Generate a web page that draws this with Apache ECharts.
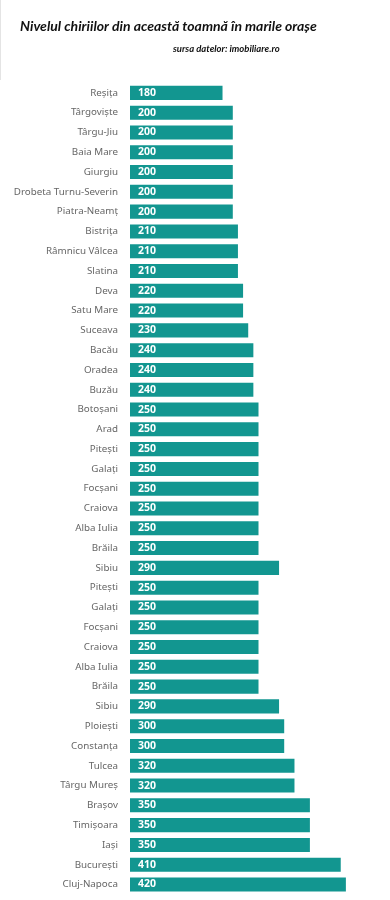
<!DOCTYPE html>
<html>
<head>
<meta charset="utf-8">
<script src="https://cdn.jsdelivr.net/npm/echarts@6/dist/echarts.min.js"></script>
<style>
html,body{margin:0;padding:0;background:#fff;}
#chart{width:390px;height:900px;}
</style>
</head>
<body>
<div id="chart"></div>
<script>
const titleText = 'Nivelul chiriilor din această toamnă în marile orașe';
const sourceText = 'sursa datelor: imobiliare.ro';
const cities = ['Reșița','Târgoviște','Târgu-Jiu','Baia Mare','Giurgiu','Drobeta Turnu-Severin','Piatra-Neamț','Bistrița','Râmnicu Vâlcea','Slatina','Deva','Satu Mare','Suceava','Bacău','Oradea','Buzău','Botoșani','Arad','Pitești','Galați','Focșani','Craiova','Alba Iulia','Brăila','Sibiu','Pitești','Galați','Focșani','Craiova','Alba Iulia','Brăila','Sibiu','Ploiești','Constanța','Tulcea','Târgu Mureș','Brașov','Timișoara','Iași','București','Cluj-Napoca'];
const rents = [180,200,200,200,200,200,200,210,210,210,220,220,230,240,240,240,250,250,250,250,250,250,250,250,290,250,250,250,250,250,250,290,300,300,320,320,350,350,350,410,420];

const chart = echarts.init(document.getElementById('chart'), null, {renderer:'canvas'});
chart.setOption({
  animation:false,
  backgroundColor:'#ffffff',
  title:[
    {text:titleText, left:15, top:14, textStyle:{fontFamily:'Lato', fontStyle:'italic', fontWeight:'bold', fontSize:14, color:'#111'}},
    {text:sourceText, left:168, top:39, textStyle:{fontFamily:'Lato', fontStyle:'italic', fontWeight:'bold', fontSize:9.5, color:'#111'}}
  ],
  graphic:[
    {type:'line', shape:{x1:0.5,y1:0,x2:0.5,y2:80}, style:{stroke:'#e4e4e4', lineWidth:1}}
  ],
  grid:{left:130, right:3, top:83, bottom:5.6, containLabel:false},
  xAxis:{type:'value', min:0, max:500, show:false},
  yAxis:{
    type:'category', data:cities, inverse:true,
    axisLine:{show:false}, axisTick:{show:false},
    axisLabel:{margin:12, color:'#666', fontFamily:'Noto Sans', fontSize:9.8}
  },
  series:[{
    type:'bar', data:rents, barCategoryGap:'29%',
    itemStyle:{color:'#129690'},
    label:{show:true, position:'insideLeft', distance:8, color:'#fff', fontWeight:'bold', fontFamily:'Noto Sans', fontSize:10.5}
  }]
});
</script>
</body>
</html>
